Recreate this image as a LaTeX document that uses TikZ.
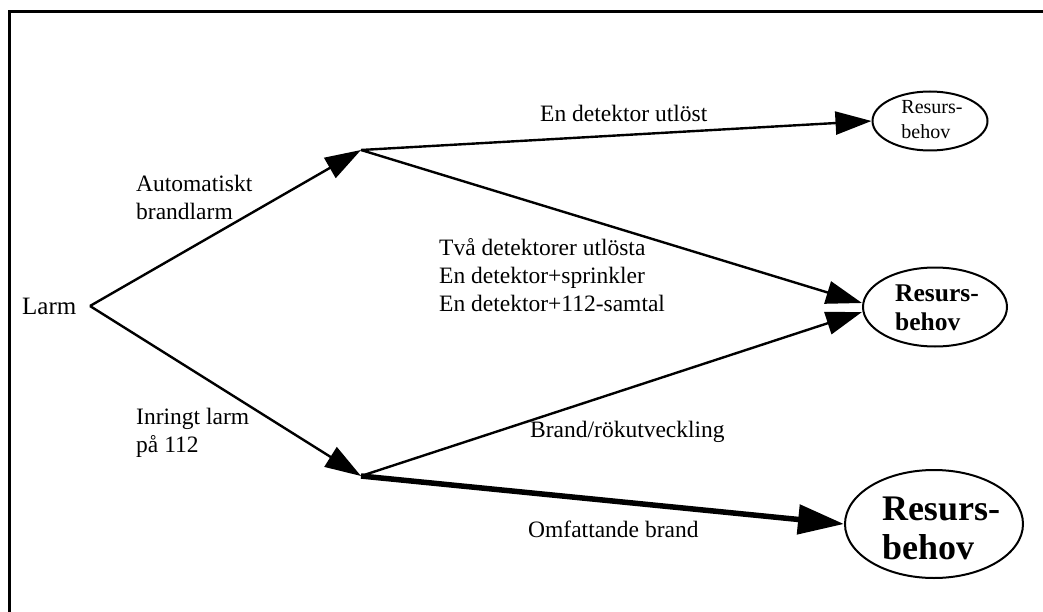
\documentclass[tikz,border=0pt]{standalone}
\usepackage{fontspec}
\setmainfont{Liberation Serif}
\usetikzlibrary{arrows.meta,shapes.geometric}
\begin{document}
\begin{tikzpicture}[x=1pt,y=-1pt,
  lbl/.style={font=\fontsize{23.5}{28}\selectfont, align=left, inner sep=0pt, anchor=west},
  res/.style={draw, ellipse, line width=2pt, inner sep=0pt},
  restext/.style={align=left, inner sep=0pt},
  flow/.style={line width=2.4pt, -{Triangle[length=36pt,width=23pt]}},
  heavy/.style={line width=5.5pt, -{Triangle[length=46pt,width=29pt]}}]
\useasboundingbox (0,0) rectangle (1043,612);

% frame, running off the right and bottom edges
\begin{scope}
  \clip (0,0) rectangle (1043,612);
  \draw[line width=3pt] (9.5,11.5) rectangle (1100,700);
\end{scope}

% branching points
\coordinate (apex) at (90,306);
\coordinate (up) at (361,150);
\coordinate (down) at (361,476);

% outcome ellipses
\node[res, minimum width=115pt, minimum height=59pt] (r1) at (930,121) {};
\node[restext, font=\fontsize{20}{25}\selectfont] (r1t) at (932,120) {Resurs-\\behov};
\node[res, minimum width=144pt, minimum height=79pt] (r2) at (935,307) {};
\node[restext, font=\fontsize{25.5}{29}\selectfont\bfseries] (r2t) at (937,308) {Resurs-\\behov};
\node[res, minimum width=178pt, minimum height=108pt] (r3) at (934,524) {};
\node[restext, font=\fontsize{36}{39}\selectfont\bfseries] (r3t) at (941,528) {Resurs-\\behov};

% labels
\node[lbl, font=\fontsize{25}{30}\selectfont] (larm) at (22,306) {Larm};
\node[lbl] (auto) at (136,197) {Automatiskt\\brandlarm};
\node[lbl] (inring) at (136,433) {Inringt larm\\på 112};
\node[lbl] (en) at (540,113) {En detektor utlöst};
\node[lbl] (tva) at (439,275) {Två detektorer utlösta\\En detektor+sprinkler\\En detektor+112-samtal};
\node[lbl] (brand) at (530,432) {Brand/rökutveckling};
\node[lbl] (omf) at (528,529) {Omfattande brand};

% connectors
\draw[flow] (apex) -- (up);
\draw[flow] (apex) -- (down);
\draw[flow] (up) -- (r1.west);
\draw[flow] (up) -- ([yshift=4pt]r2.west);
\draw[flow] (down) -- ([yshift=-5pt]r2.west);
\draw[heavy] (down) -- (r3.west);
\end{tikzpicture}
\end{document}
